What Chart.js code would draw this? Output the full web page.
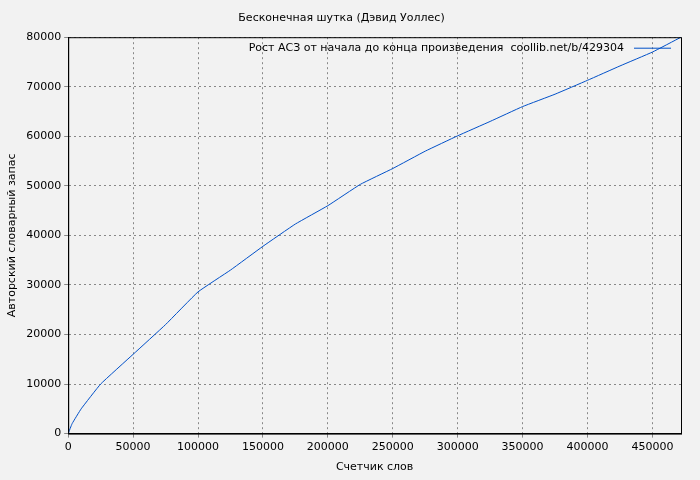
<!DOCTYPE html>
<html><head><meta charset="utf-8">
<script src="https://cdn.jsdelivr.net/npm/chart.js@4/dist/chart.umd.min.js"></script>
<style>html,body{margin:0;background:#f2f2f2}#wrap{width:700px;height:480px}</style>
</head><body><div id="wrap"><canvas id="c"></canvas></div>
<script>
// words counted vs vocabulary size
const wordCounts = [0, 3000, 10000, 25000, 50000, 75000, 100000, 125000, 150000, 175000, 200000, 225000, 250000, 275000, 300000, 325000, 350000, 375000, 400000, 425000, 450000, 472000];
const vocabSizes = [0, 2000, 5000, 10000, 16000, 22000, 28600, 33000, 37800, 42300, 46000, 50300, 53500, 57000, 60100, 63000, 66000, 68500, 71300, 74200, 77000, 80000];
const xTicks = [0, 50000, 100000, 150000, 200000, 250000, 300000, 350000, 400000, 450000];
const seriesLabel = 'Рост АСЗ от начала до конца произведения  coollib.net/b/429304';

const font = { family: 'DejaVu Sans', size: 11 };
Chart.defaults.color = '#000';

const legendPlugin = {
    id: 'innerLegend',
    afterDraw(chart) {
        const ctx = chart.ctx, a = chart.chartArea;
        ctx.save();
        ctx.font = '11px DejaVu Sans';
        ctx.fillStyle = '#000';
        ctx.textAlign = 'right';
        ctx.textBaseline = 'middle';
        const y = a.top + 11;
        ctx.fillText(chart.data.datasets[0].label, a.right - 57, y);
        ctx.strokeStyle = '#0050c8';
        ctx.beginPath();
        ctx.moveTo(a.right - 47, y);
        ctx.lineTo(a.right - 10, y);
        ctx.stroke();
        ctx.restore();
    }
};

new Chart(document.getElementById('c'), {
    type: 'line',
    data: {
        datasets: [{
            label: seriesLabel,
            data: wordCounts.map((x, i) => ({ x: x, y: vocabSizes[i] })),
            borderColor: '#0050c8',
            borderWidth: 1,
            pointRadius: 0,
            tension: 0.1
        }]
    },
    options: {
        responsive: true,
        maintainAspectRatio: false,
        animation: false,
        layout: { padding: { left: 2, right: 19, top: 4, bottom: 2 } },
        plugins: {
            legend: { display: false },
            tooltip: { enabled: false },
            title: { display: true, text: 'Бесконечная шутка (Дэвид Уоллес)', font: { family: 'DejaVu Sans', size: 11, weight: 'normal' }, padding: { top: 8, bottom: 12 } }
        },
        scales: {
            x: {
                type: 'linear', min: 0, max: 472000,
                afterBuildTicks: s => { s.ticks = xTicks.map(v => ({ value: v })); },
                ticks: { font: font, maxRotation: 0, autoSkip: false, callback: v => String(v) },
                grid: { color: '#888', tickLength: 4 },
                border: { color: '#000', dash: [2, 3] },
                title: { display: true, text: 'Счетчик слов', font: font }
            },
            y: {
                min: 0, max: 80000,
                ticks: { stepSize: 10000, font: font, callback: v => String(v) },
                grid: { color: '#888', tickLength: 4 },
                border: { color: '#000', dash: [2, 3] },
                title: { display: true, text: 'Авторский словарный запас', font: font }
            }
        }
    },
    plugins: [legendPlugin, {
        id: 'frame',
        afterDraw(chart) {
            const ctx = chart.ctx, a = chart.chartArea;
            ctx.save();
            ctx.strokeStyle = '#000';
            ctx.lineWidth = 1;
            ctx.strokeRect(a.left + 0.5, a.top + 0.5, a.right - a.left, a.bottom - a.top);
            ctx.restore();
        }
    }]
});
</script></body></html>
